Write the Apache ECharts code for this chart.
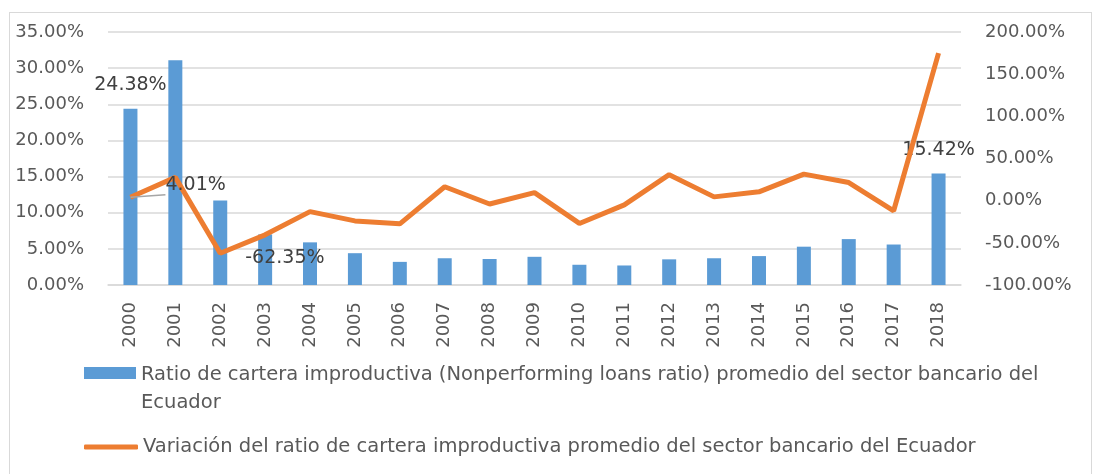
<!DOCTYPE html>
<html>
<head>
<meta charset="utf-8">
<script src="https://cdn.jsdelivr.net/npm/echarts@6/dist/echarts.min.js"></script>
<style>
* { margin: 0; padding: 0; }
body { background: #fff; }
#frame { position: absolute; left: 9px; top: 12px; width: 1083px; height: 470px; border: 1px solid #d9d9d9; box-sizing: border-box; }
#chart { position: absolute; left: 0; top: 0; width: 1101px; height: 474px; }
</style>
</head>
<body>
<div id="frame"></div>
<div id="chart"></div>
<script>
// años
var years = ['2000', '2001', '2002', '2003', '2004', '2005', '2006', '2007', '2008', '2009',
  '2010', '2011', '2012', '2013', '2014', '2015', '2016', '2017', '2018']
// ratio de cartera improductiva (%)
var ratio = [24.38, 31.1, 11.7, 7.0, 5.9, 4.4, 3.2, 3.7, 3.6, 3.9,
  2.8, 2.7, 3.55, 3.7, 4.0, 5.3, 6.35, 5.6, 15.42]
// variacion del ratio (%)
var variacion = [4.01, 27.6, -62.35, -40.5, -13, -24, -27.5, 16.5, -4, 9.5,
  -27, -5, 30.8, 4.5, 10.5, 31.5, 21.5, -12, 175]
// etiquetas visibles
var ratioLabels = [0, 18]
var variacionLabels = [0, 2]

var nameBar = 'Ratio de cartera improductiva (Nonperforming loans ratio) promedio del sector bancario del Ecuador'
var nameLine = 'Variación del ratio de cartera improductiva promedio del sector bancario del Ecuador'
var font = 'DejaVu Sans'

var barData = ratio.map(function (v, i) {
  if (ratioLabels.indexOf(i) < 0) return v
  return { value: v, label: { show: true, position: 'top', distance: 14 } }
})
var lineOffsets = { 0: [30, -12], 2: [20, 5] }
var lineData = variacion.map(function (v, i) {
  if (variacionLabels.indexOf(i) < 0) return v
  var item = { value: v, label: { show: true, position: 'right', distance: 5, offset: lineOffsets[i] } }
  if (i === 0) item.labelLine = { show: true, length2: 8, lineStyle: { color: '#a6a6a6', width: 1.5 } }
  return item
})

var chart = echarts.init(document.getElementById('chart'))
chart.setOption({
  animation: false,
  textStyle: { fontFamily: font },
  grid: { left: 108, right: 140, top: 32, bottom: 189 },
  legend: [
    {
      // icono alineado con la primera linea del texto
      data: [{ name: nameBar, icon: 'path://M0,0L52,0L52,12L0,12Z M0,43.9L0.1,43.9L0.1,44L0,44Z' }],
      left: 79, top: 356, itemWidth: 52, itemHeight: 44, itemGap: 0,
      textStyle: { color: '#595959', fontSize: 19.5, width: 930, overflow: 'break', lineHeight: 28, fontFamily: font }
    },
    {
      data: [{ name: nameLine, icon: 'roundRect' }], left: 79, top: 432, itemWidth: 54, itemHeight: 5,
      textStyle: { color: '#595959', fontSize: 19.5, fontFamily: font }
    }
  ],
  xAxis: {
    type: 'category',
    data: years,
    axisLine: { lineStyle: { color: '#d9d9d9', width: 1.5 } },
    axisTick: { show: false },
    axisLabel: { rotate: 90, color: '#595959', fontSize: 18, margin: 17 }
  },
  yAxis: [
    {
      type: 'value', min: 0, max: 35, interval: 5,
      axisLabel: { color: '#595959', fontSize: 18, margin: 24, formatter: function (v) { return v.toFixed(2) + '%' } },
      splitLine: { lineStyle: { color: '#d9d9d9', width: 1.5 } }
    },
    {
      type: 'value', min: -100, max: 200, interval: 50,
      axisLabel: { color: '#595959', fontSize: 18, margin: 24, formatter: function (v) { return v.toFixed(2) + '%' } },
      splitLine: { show: false }
    }
  ],
  series: [
    {
      name: nameBar, type: 'bar', data: barData, barWidth: 14,
      itemStyle: { color: '#5B9BD5' },
      label: { color: '#404040', fontSize: 19, formatter: function (p) { return p.value.toFixed(2) + '%' } }
    },
    {
      name: nameLine, type: 'line', yAxisIndex: 1, data: lineData,
      symbol: 'circle', symbolSize: 0, showSymbol: true, showAllSymbol: true,
      lineStyle: { color: '#ED7D31', width: 5 }, itemStyle: { color: '#ED7D31' },
      label: { color: '#404040', fontSize: 19, formatter: function (p) { return p.value.toFixed(2) + '%' } }
    }
  ]
})
</script>
</body>
</html>
